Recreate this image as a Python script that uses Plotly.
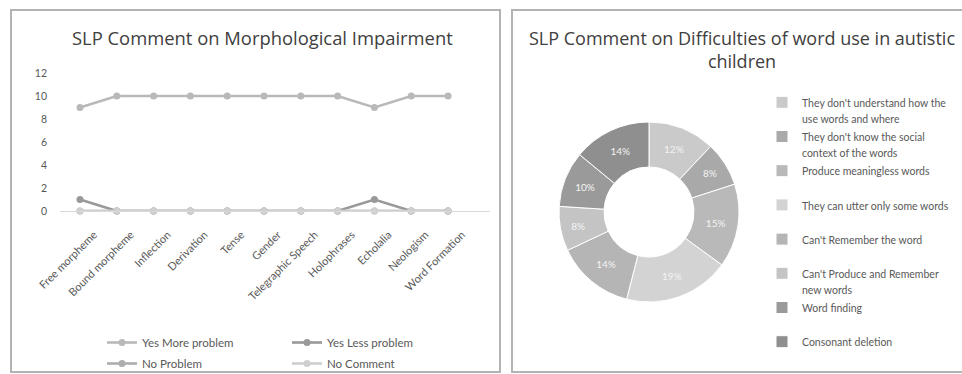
import plotly.graph_objects as go

W, H = 962, 374

categories = ["Free morpheme", "Bound morpheme", "Inflection", "Derivation", "Tense",
              "Gender", "Telegraphic Speech", "Holophrases", "Echolalia", "Neologism",
              "Word Formation"]
yes_more = [9, 10, 10, 10, 10, 10, 10, 10, 9, 10, 10]
yes_less = [1, 0, 0, 0, 0, 0, 0, 0, 1, 0, 0]
no_problem = [0, 0, 0, 0, 0, 0, 0, 0, 0, 0, 0]
no_comment = [0, 0, 0, 0, 0, 0, 0, 0, 0, 0, 0]
y_ticks = [0, 2, 4, 6, 8, 10, 12]

pie_labels = ["They don't understand how the<br>use words and where",
              "They don't know the social<br>context of the words",
              "Produce meaningless words",
              "They can utter only some words",
              "Can't Remember the word",
              "Can't Produce and Remember<br>new words",
              "Word finding",
              "Consonant deletion"]
pie_values = [12, 8, 15, 19, 14, 8, 10, 14]

FONT = "Lato"
TFONT = "Open Sans"
TXT = "#595959"

def px(x):
    return x / W

def py(y):
    return 1 - y / H

fig = go.Figure()

line_series = [
    ("Yes More problem", yes_more, "#b9b9b9", "legend"),
    ("Yes Less problem", yes_less, "#999999", "legend"),
    ("No Problem", no_problem, "#adadad", "legend3"),
    ("No Comment", no_comment, "#cfcfcf", "legend3"),
]
for name, vals, col, lg in line_series:
    fig.add_trace(go.Scatter(
        x=categories, y=vals, name=name, mode="lines+markers",
        line=dict(color=col, width=2.6),
        marker=dict(color=col, size=7, symbol="circle"),
        cliponaxis=False, legend=lg,
    ))

legend_names = []
for lab in pie_labels:
    n = lab.count("<br>") + 1
    txt = lab + "<br>&nbsp;" * (2 - n)
    legend_names.append('<span style="font-size:10.5px">' + txt + '</span>')

pie_colors = ["#cacaca", "#a9a9a9", "#b9b9b9", "#d3d3d3", "#b5b5b5", "#c4c4c4", "#9a9a9a", "#8f8f8f"]
fig.add_trace(go.Pie(
    labels=legend_names, values=pie_values, hole=0.5, sort=False,
    direction="clockwise", rotation=0,
    marker=dict(colors=pie_colors, line=dict(color="#ffffff", width=1)),
    textinfo="percent", textposition="inside", insidetextorientation="horizontal",
    textfont=dict(color="#f4f4f4", size=10, family=FONT),
    domain=dict(x=[px(559), px(739)], y=[py(302), py(122)]),
    legend="legend2", showlegend=True,
))

fig.update_layout(
    width=W, height=H,
    margin=dict(l=0, r=0, t=0, b=0, autoexpand=False),
    paper_bgcolor="white", plot_bgcolor="white",
    font=dict(family=FONT, color=TXT),
    xaxis=dict(
        domain=[px(60), px(490)], range=[-0.543, 11.14],
        showline=True, linecolor="#d9d9d9", linewidth=1,
        showgrid=False, zeroline=False, ticks="",
        tickangle=-45, tickfont=dict(size=11, color=TXT, family=FONT),
        ticklabelshift=14, ticklabelstandoff=12,
        anchor="y", automargin=False,
    ),
    yaxis=dict(
        domain=[py(211), py(73)], range=[0, 12],
        tickvals=y_ticks, showgrid=False, zeroline=False, showline=False,
        tickfont=dict(size=10.5, color=TXT, family=FONT), ticks="", automargin=False,
        ticklabelstandoff=12,
    ),
    legend=dict(
        orientation="h", x=px(102), y=py(328), xanchor="left", yanchor="top",
        entrywidth=140, entrywidthmode="pixels",
        font=dict(size=11.5, color=TXT, family=FONT), bgcolor="rgba(0,0,0,0)",
        itemwidth=30,
    ),
    legend3=dict(
        orientation="h", x=px(102), y=py(349), xanchor="left", yanchor="top",
        entrywidth=140, entrywidthmode="pixels",
        font=dict(size=11.5, color=TXT, family=FONT), bgcolor="rgba(0,0,0,0)",
        itemwidth=30,
    ),
    legend2=dict(
        orientation="v", x=px(762), y=py(88), xanchor="left", yanchor="top",
        font=dict(size=12, color=TXT, family=FONT), bgcolor="rgba(0,0,0,0)",
        valign="top", itemwidth=30,
    ),
    shapes=[
        dict(type="rect", xref="paper", yref="paper", x0=px(11), x1=px(500), y0=py(372), y1=py(10),
             line=dict(color="#b3b3b3", width=2)),
        dict(type="rect", xref="paper", yref="paper", x0=px(512), x1=px(975), y0=py(372), y1=py(10),
             line=dict(color="#b3b3b3", width=2)),
    ],
    annotations=[
        dict(text="SLP Comment on Morphological Impairment", x=px(262), y=py(38),
             xref="paper", yref="paper", showarrow=False, xanchor="center", yanchor="middle",
             font=dict(size=18.4, color="#404040", family=TFONT)),
        dict(text="SLP Comment on Difficulties of word use in autistic<br>children", x=px(742), y=py(50),
             xref="paper", yref="paper", showarrow=False, xanchor="center", yanchor="middle",
             font=dict(size=18, color="#404040", family=TFONT)),
    ],
)

fig.write_html("out.html")
